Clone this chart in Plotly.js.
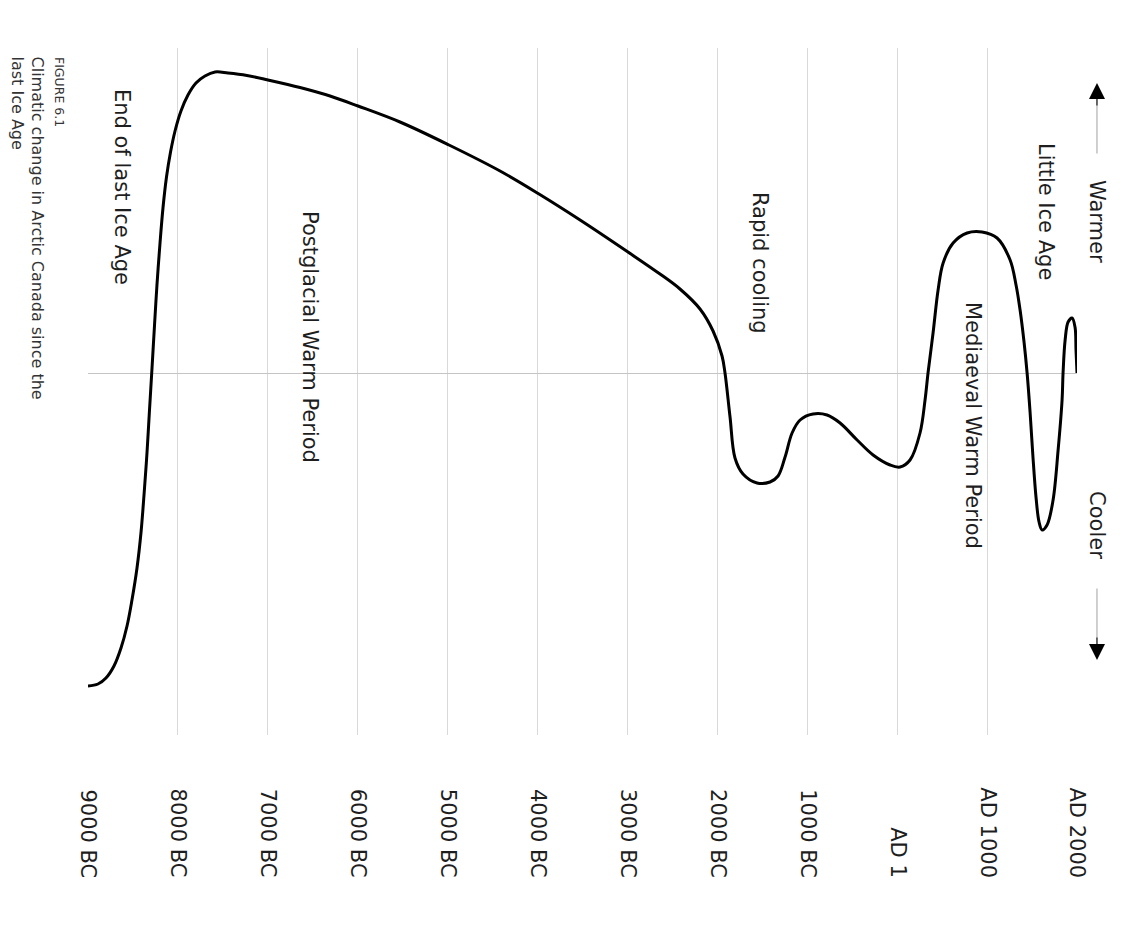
<!DOCTYPE html>
<html>
<head>
<meta charset="utf-8">
<script src="https://cdn.plot.ly/plotly-3.0.1.min.js"></script>
<style>html,body{margin:0;padding:0;background:#fff;}#chart{width:1139px;height:939px;}</style>
</head>
<body>
<div id="chart"></div>
<script>
// Time axis (years; negative = BC)
const tickYears = [-9000, -8000, -7000, -6000, -5000, -4000, -3000, -2000, -1000, 1, 1000, 2000];
const tickLabels = ["9000 BC", "8000 BC", "7000 BC", "6000 BC", "5000 BC", "4000 BC", "3000 BC", "2000 BC", "1000 BC", "AD 1", "AD 1000", "AD 2000"];

// Relative temperature curve (arbitrary units; 0 = baseline, + = warmer)
const years = [-9000, -8889, -8800, -8711, -8633, -8566, -8511, -8455, -8410, -8377, -8344, -8316, -8288, -8260, -8233, -8199, -8166, -8127, -8082, -8032, -7966, -7888, -7799, -7699, -7587, -7443, -7232, -6998, -6642, -6308, -5997, -5530, -4985, -4417, -3984, -3527, -2994, -2638, -2416, -2193, -2048, -1948, -1915, -1859, -1804, -1715, -1559, -1414, -1325, -1247, -1169, -1080, -936, -780, -635, -446, -268, -79, 32, 143, 254, 310, 343, 399, 455, 511, 622, 778, 944, 1111, 1256, 1322, 1367, 1411, 1445, 1478, 1511, 1545, 1578, 1612, 1667, 1734, 1790, 1834, 1845, 1868, 1901, 1945, 1978, 1989, 2000];
const temps = [-3.13, -3.11, -3.05, -2.93, -2.75, -2.53, -2.27, -1.95, -1.59, -1.22, -0.80, -0.37, 0.05, 0.48, 0.88, 1.30, 1.65, 1.96, 2.21, 2.42, 2.62, 2.78, 2.90, 2.97, 3.01, 3.00, 2.975, 2.93, 2.855, 2.77, 2.67, 2.51, 2.28, 2.02, 1.79, 1.53, 1.21, 0.99, 0.84, 0.64, 0.42, 0.17, 0.00, -0.44, -0.85, -1.01, -1.10, -1.09, -1.03, -0.84, -0.60, -0.47, -0.41, -0.42, -0.50, -0.67, -0.82, -0.92, -0.94, -0.87, -0.60, -0.27, 0.00, 0.40, 0.83, 1.10, 1.30, 1.40, 1.41, 1.35, 1.13, 0.88, 0.63, 0.31, 0.00, -0.39, -0.85, -1.25, -1.49, -1.57, -1.52, -1.27, -0.77, -0.27, 0.00, 0.33, 0.51, 0.55, 0.46, 0.23, 0.00];

// Period annotations
const periodLabels = ["End of last Ice Age", "Postglacial Warm Period", "Rapid cooling", "Mediaeval Warm Period", "Little Ice Age"];
const periodYears = [-8622, -6531, -1525, 844, 1656];
const periodTemps = [1.86, 0.36, 1.10, -0.52, 1.62];

const captionLines = ["FIGURE 6.1", "Climatic change in Arctic Canada since the", "last Ice Age"];

const FONT = "DejaVu Sans, sans-serif";
const TXT = "#1e1e1e";

const trace = {
  x: years, y: temps, type: "scatter", mode: "lines",
  line: {color: "#000", width: 3, shape: "spline", smoothing: 1},
  hoverinfo: "skip", showlegend: false
};

const annotations = [];
// tick labels (bottom-aligned, rotated)
tickYears.forEach((yr, i) => {
  annotations.push({
    x: yr, xref: "x", y: -0.211, yref: "paper",
    text: tickLabels[i], textangle: 90, showarrow: false,
    xanchor: "center", yanchor: "bottom",
    font: {family: FONT, size: 21, color: TXT}
  });
});
// period labels
periodLabels.forEach((t, i) => {
  annotations.push({
    x: periodYears[i], xref: "x", y: periodTemps[i], yref: "y",
    text: t, textangle: 90, showarrow: false,
    xanchor: "center", yanchor: "middle",
    font: {family: FONT, size: 21, color: TXT}
  });
});
// Warmer / Cooler (right of plot area)
const sideX = 1.0202;
annotations.push({x: sideX, xref: "paper", y: 1.51, yref: "y", text: "Warmer", textangle: 90, showarrow: false,
  xanchor: "center", yanchor: "middle", font: {family: FONT, size: 21, color: TXT}});
annotations.push({x: sideX, xref: "paper", y: -1.52, yref: "y", text: "Cooler", textangle: 90, showarrow: false,
  xanchor: "center", yanchor: "middle", font: {family: FONT, size: 21, color: TXT}});
// arrow shafts (gray) and heads (black)
annotations.push({x: sideX, y: 2.80, xref: "paper", yref: "y", ax: 0, ay: 2.18, axref: "pixel", ayref: "y",
  text: "", showarrow: true, arrowhead: 0, arrowwidth: 1, arrowcolor: "#a0a0a0", standoff: 0, startstandoff: 0});
annotations.push({x: sideX, y: 2.90, xref: "paper", yref: "y", ax: 0, ay: 2.66, axref: "pixel", ayref: "y",
  text: "", showarrow: true, arrowhead: 2, arrowsize: 3.2, arrowwidth: 1, arrowcolor: "#000", standoff: 0, startstandoff: 0});
annotations.push({x: sideX, y: -2.77, xref: "paper", yref: "y", ax: 0, ay: -2.14, axref: "pixel", ayref: "y",
  text: "", showarrow: true, arrowhead: 0, arrowwidth: 1, arrowcolor: "#a0a0a0", standoff: 0, startstandoff: 0});
annotations.push({x: sideX, y: -2.87, xref: "paper", yref: "y", ax: 0, ay: -2.63, axref: "pixel", ayref: "y",
  text: "", showarrow: true, arrowhead: 2, arrowsize: 3.2, arrowwidth: 1, arrowcolor: "#000", standoff: 0, startstandoff: 0});
// caption
const capX = [-0.0283, -0.0506, -0.0708];
const capSize = [12.5, 16, 16];
captionLines.forEach((t, i) => {
  annotations.push({
    x: capX[i], xref: "paper", y: 0.9898, yref: "paper",
    text: t, textangle: 90, showarrow: false,
    xanchor: "center", yanchor: "top",
    font: {family: FONT, size: capSize[i], color: "#333"}
  });
});

const layout = {
  width: 1139, height: 939,
  margin: {l: 88, r: 62, t: 48, b: 204, pad: 0},
  paper_bgcolor: "#fff", plot_bgcolor: "#fff",
  showlegend: false,
  xaxis: {
    range: [-9000, 2000], tickvals: tickYears, showticklabels: false,
    showgrid: true, gridcolor: "#d9d9d9", gridwidth: 1,
    zeroline: false, showline: false, ticks: "", fixedrange: true
  },
  yaxis: {
    range: [-3.62, 3.25], showticklabels: false, showgrid: false,
    zeroline: true, zerolinecolor: "#c4c4c4", zerolinewidth: 1,
    showline: false, ticks: "", fixedrange: true
  },
  annotations: annotations
};

Plotly.newPlot("chart", [trace], layout, {displayModeBar: false, staticPlot: true});
</script>
</body>
</html>
